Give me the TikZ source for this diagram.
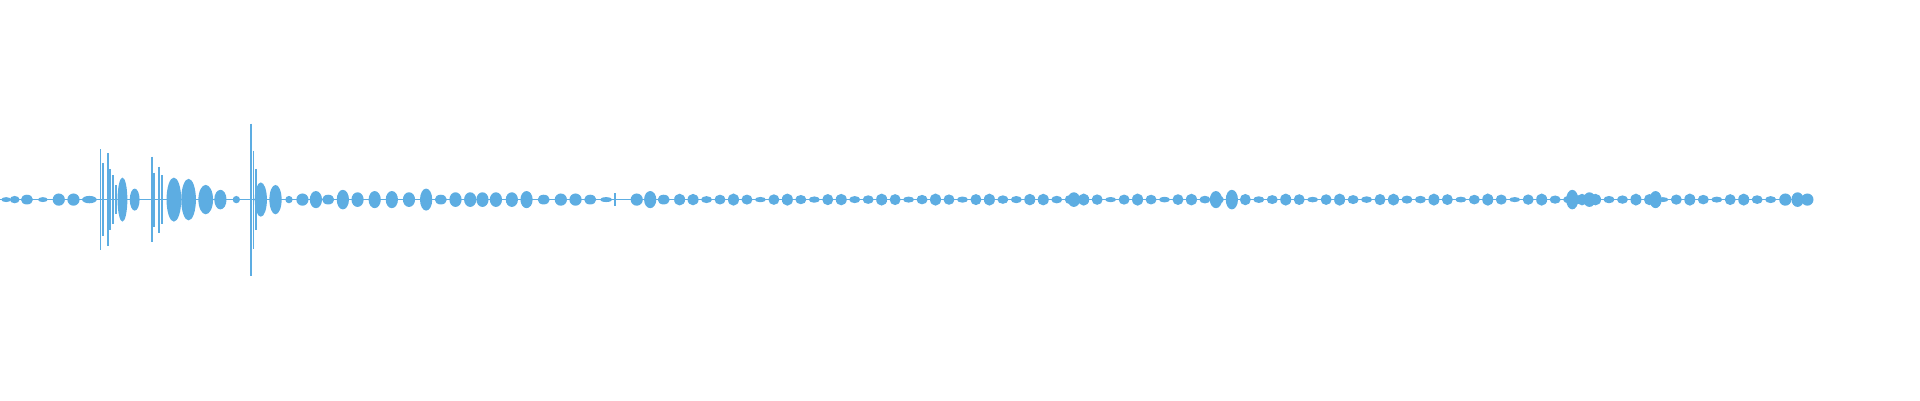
\documentclass[tikz,border=0pt]{standalone}
\usepackage{tikz}
\definecolor{wave}{RGB}{93,173,226}
\tikzset{
  blob/.style={fill=wave, draw=none},
  spike/.style={draw=wave, line width=0.5pt}
}
\begin{document}
\begin{tikzpicture}[x=0.012245cm, y=-0.012245cm]

    % Frame
    \useasboundingbox (0,0) rectangle (1568,326.7);
    \coordinate (axisL) at (0,163);
    \coordinate (axisR) at (1478,163);
    \draw [spike, line width=0.3pt] (axisL) -- (axisR);

    % Opening blobs
    \foreach \x/\w/\h in {5/4/2, 12/4/3, 22/5/4, 35/4/2, 48/5/5, 60/5/5, 73/6/3,
        100/4/18, 110/4/9, 142/6/18, 154/6/17, 168/6/12, 180/5/8, 193/3/3,
        213/5/14, 225/5/12, 236/3/3}
      \fill [blob] (\x,163) ellipse ({\w} and {\h});

    % Spikes
    \foreach \x/\h in {82/41, 84/30, 88/38, 90/25, 92/20, 95/12, 124/35, 126/22, 130/27, 132/20, 205/62, 207/40, 209/25, 502/5}
      \draw [spike] (\x,163-\h) -- (\x,163+\h);

    % Middle stretch
    \foreach \x/\h in {247/5, 258/7, 268/4, 280/8, 292/6, 306/7, 320/7, 334/6, 348/9,
        360/4, 372/6, 384/6, 394/6, 405/6, 418/6, 430/7, 444/4, 458/5, 470/5, 482/4,
        495/2, 520/5, 531/7, 542/4, 877/6, 993/7, 1006/8, 1284/8, 1298/6, 1352/7,
        1458/5, 1468/6, 1476/5}
      \fill [blob] (\x,163) ellipse (5 and {\h});

    % Regular stretch
    \foreach \x in {555,566,...,1450}
      \fill [blob] (\x,163) ellipse (4.5 and {2+3*abs(sin(mod(\x,97)*37))});

\end{tikzpicture}
\end{document}
